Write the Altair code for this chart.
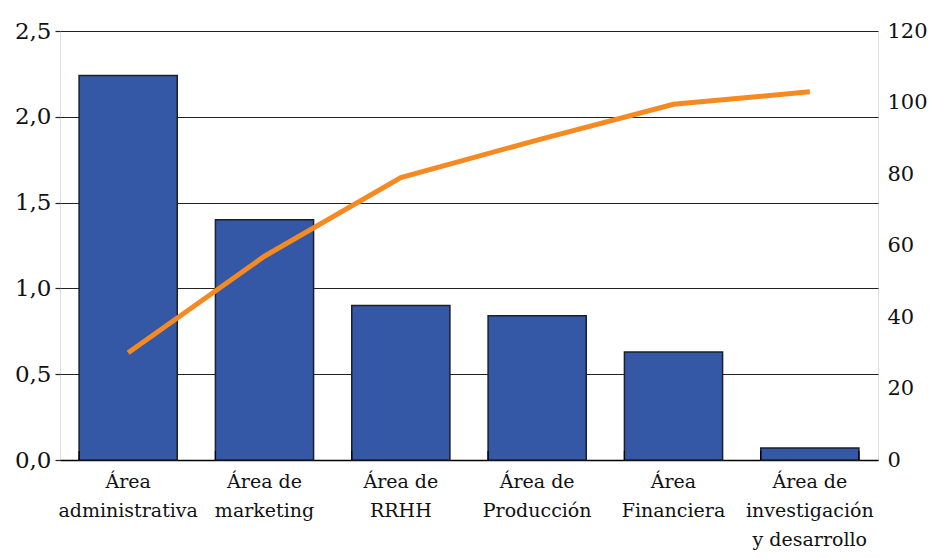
import altair as alt
import pandas as pd

categories = ["Área\nadministrativa", "Área de\nmarketing", "Área de\nRRHH",
              "Área de\nProducción", "Área\nFinanciera", "Área de\ninvestigación\ny desarrollo"]
bar_values = [2.24, 1.40, 0.90, 0.84, 0.63, 0.07]
line_values = [30, 57, 79, 89.5, 99.5, 103]
left_ticks = [0, 0.5, 1.0, 1.5, 2.0, 2.5]
right_ticks = [0, 20, 40, 60, 80, 100, 120]

df = pd.DataFrame({"cat": categories, "val": bar_values, "pct": line_values})
df["last"] = [False] * (len(categories) - 1) + [True]

FONT = "DejaVu Serif"
xenc = alt.X("cat:N", sort=None, title=None,
             scale=alt.Scale(paddingInner=0.28, paddingOuter=0.14),
             axis=alt.Axis(labelAngle=0, ticks=False, domainColor="#000000", domainWidth=1.5,
                           labelExpr="split(datum.value, '\\n')",
                           labelFontSize=19, labelColor="#111111", labelPadding=12,
                           labelLineHeight=29, labelBaseline="top"))

bars = alt.Chart(df).mark_bar(color="#3457A6", stroke="#1b1f2e", strokeWidth=1.5).encode(
    x=xenc,
    y=alt.Y("val:Q", title=None,
            scale=alt.Scale(domain=[0, 2.5], nice=False),
            axis=alt.Axis(values=left_ticks, grid=True, gridColor="#222222", gridWidth=1.2,
                          domain=False, tickColor="#222222", tickSize=5, tickWidth=1.2,
                          labelPadding=4, labelFontSize=23,
                          labelColor="#111111",
                          labelExpr="replace(format(datum.value, '.1f'), '.', ',')"))
)

line = alt.Chart(df).mark_line(color="#F58A22", strokeWidth=5).encode(
    x=alt.X("cat:N", sort=None),
    y=alt.Y("pct:Q", title=None,
            scale=alt.Scale(domain=[0, 120], nice=False),
            axis=alt.Axis(orient="right", values=right_ticks, grid=False, domain=False,
                          ticks=False, labelPadding=9, labelFontSize=21,
                          labelColor="#111111"))
)

ticks_left = alt.Chart(df).mark_rule(color="#000000", strokeWidth=1.2).encode(
    x=alt.X("cat:N", sort=None, bandPosition=0),
    y=alt.value(429), y2=alt.value(420)
)
ticks_right = alt.Chart(df).transform_filter("datum.last").mark_rule(
    color="#000000", strokeWidth=1.2).encode(
    x=alt.X("cat:N", sort=None, bandPosition=1),
    y=alt.value(429), y2=alt.value(420)
)

chart = alt.layer(bars, line, ticks_left, ticks_right).resolve_scale(
    y="independent"
).properties(
    width=818, height=429,
    autosize=alt.AutoSizeParams(type="none"),
    padding={"left": 52, "top": 23, "right": 49, "bottom": 91},
).configure_view(stroke=None).configure(background="#ffffff", font=FONT).configure_axis(
    labelFont=FONT)

chart.save("out.html", embed_options={"renderer": "svg", "actions": False})
